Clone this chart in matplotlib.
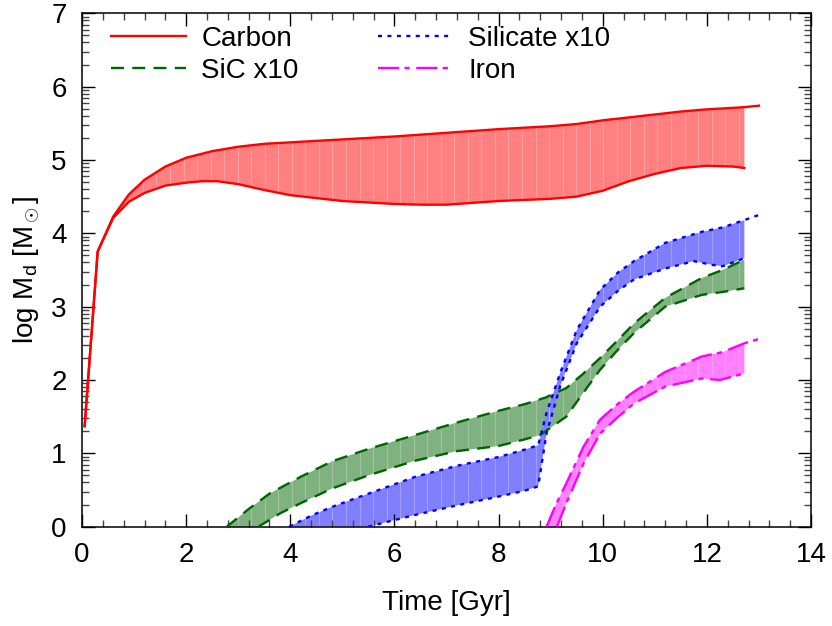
import numpy as np
import matplotlib
matplotlib.use("Agg")
import matplotlib.pyplot as plt

plt.rcParams['font.family'] = ['Liberation Sans', 'DejaVu Sans']
plt.rcParams['mathtext.fontset'] = 'custom'
plt.rcParams['mathtext.rm'] = 'Liberation Sans'
plt.rcParams['mathtext.it'] = 'Liberation Sans'

# Carbon (upper / lower edge of the band)
c_up_x = [0.05, 0.3, 0.6, 0.9, 1.2, 1.6, 2.0, 2.5, 3.0, 3.5, 4.0, 5.0, 6.0, 7.0, 8.0, 9.0, 9.5,
          10.0, 10.5, 11.0, 11.5, 12.0, 12.5, 12.72, 13.0]
c_up_y = [1.37, 3.75, 4.23, 4.53, 4.73, 4.91, 5.03, 5.12, 5.18, 5.22, 5.24, 5.28, 5.32, 5.37, 5.42,
          5.46, 5.49, 5.54, 5.58, 5.62, 5.66, 5.69, 5.71, 5.72, 5.74]
c_lo_x = [0.05, 0.3, 0.6, 0.9, 1.2, 1.6, 2.0, 2.3, 2.6, 3.0, 3.5, 4.0, 5.0, 6.0, 6.5, 7.0, 8.0, 9.0,
          9.5, 10.0, 10.5, 11.0, 11.5, 12.0, 12.5, 12.72]
c_lo_y = [1.37, 3.75, 4.21, 4.43, 4.55, 4.65, 4.69, 4.71, 4.71, 4.67, 4.59, 4.52, 4.44, 4.40, 4.39,
          4.39, 4.44, 4.47, 4.50, 4.58, 4.71, 4.81, 4.89, 4.92, 4.91, 4.89]

# SiC x10
s_up_x = [2.78, 3.2, 3.6, 4.2, 4.8, 5.5, 6.4, 7.2, 8.0, 8.5, 8.9, 9.3, 9.6, 9.95, 10.3, 10.6, 11.2,
          11.9, 12.3, 12.72]
s_up_y = [0.0, 0.24, 0.45, 0.68, 0.89, 1.06, 1.25, 1.42, 1.58, 1.67, 1.76, 1.89, 2.07, 2.30, 2.55,
          2.77, 3.12, 3.39, 3.50, 3.64]
s_lo_x = [3.39, 3.8, 4.2, 4.8, 5.5, 6.4, 7.2, 8.0, 8.5, 8.8, 9.3, 9.6, 9.95, 10.3, 10.6, 11.2,
          11.9, 12.3, 12.72]
s_lo_y = [0.0, 0.18, 0.32, 0.52, 0.70, 0.90, 1.03, 1.10, 1.19, 1.25, 1.50, 1.80, 2.14, 2.42, 2.64,
          3.00, 3.16, 3.20, 3.25]

# Silicate x10
si_up_x = [3.98, 4.4, 4.8, 5.5, 6.4, 7.2, 8.0, 8.5, 8.76, 8.92, 9.18, 9.5, 9.95, 10.3, 10.6, 11.2,
           11.9, 12.3, 12.72, 13.0]
si_up_y = [0.0, 0.15, 0.27, 0.45, 0.68, 0.83, 0.95, 1.05, 1.11, 1.55, 2.09, 2.68, 3.23, 3.47, 3.62,
           3.87, 4.02, 4.08, 4.18, 4.25]
si_lo_x = [5.5, 6.0, 6.4, 7.2, 8.0, 8.5, 8.76, 8.92, 9.18, 9.5, 9.95, 10.3, 10.6, 11.2, 11.75, 12.1,
           12.3, 12.72]
si_lo_y = [0.0, 0.09, 0.16, 0.29, 0.41, 0.49, 0.55, 1.27, 1.91, 2.50, 3.00, 3.22, 3.37, 3.52, 3.62,
           3.57, 3.55, 3.66]

# Iron
fe_up_x = [8.92, 9.1, 9.3, 9.63, 9.95, 10.3, 10.6, 11.2, 11.9, 12.3, 12.72, 13.0]
fe_up_y = [0.0, 0.30, 0.59, 1.09, 1.46, 1.68, 1.84, 2.11, 2.32, 2.38, 2.50, 2.56]
fe_lo_x = [9.12, 9.3, 9.63, 9.95, 10.3, 10.6, 11.2, 11.9, 12.25, 12.72]
fe_lo_y = [0.0, 0.32, 0.86, 1.27, 1.50, 1.68, 1.91, 2.02, 2.00, 2.09]

fig = plt.figure(figsize=(8.32, 6.26), dpi=100)
ax = fig.add_axes([0.0986, 0.1587, 0.8762, 0.8201])

series = [
    ("Carbon", c_up_x, c_up_y, c_lo_x, c_lo_y, "#ff0000", "#ff8080", "-"),
    ("SiC x10", s_up_x, s_up_y, s_lo_x, s_lo_y, "#006400", "#80b180", (0, (5.5, 3.5))),
    ("Silicate x10", si_up_x, si_up_y, si_lo_x, si_lo_y, "#0000ff", "#8080ff", (0, (1.7, 2.3))),
    ("Iron", fe_up_x, fe_up_y, fe_lo_x, fe_lo_y, "#ff00ff", "#ff80ff", (0, (9, 2.2, 2.2, 2.8))),
]

handles = []
for name, ux, uy, lx, ly, col, fcol, ls in series:
    ux, uy, lx, ly = map(np.asarray, (ux, uy, lx, ly))
    xend = lx[-1]
    keep = ux <= xend + 1e-9
    px = np.r_[ux[keep], lx[::-1]]
    py = np.r_[uy[keep], ly[::-1]]
    poly = ax.fill(px, py, color=fcol, lw=0, zorder=1)[0]
    # faint vertical stripes inside the band
    xs = np.arange(0.13, xend, 0.26)
    vl = ax.vlines(xs, 0, 7, colors="white", alpha=0.25, lw=0.8, zorder=1.5)
    vl.set_clip_path(poly)
    h, = ax.plot(ux, uy, color=col, lw=1.7, ls=ls, label=name, zorder=3)
    ax.plot(lx, ly, color=col, lw=1.7, ls=ls, zorder=3)
    handles.append(h)

ax.set_xlim(0, 14)
ax.set_ylim(0, 7)
ax.set_xticks(np.arange(0, 15, 2))
ax.set_xticks(np.arange(0, 14.01, 0.4), minor=True)
ax.set_yticks(np.arange(0, 8, 1))
yminor = [i + np.log10(k) for i in range(7) for k in range(2, 10)]
ax.set_yticks(yminor, minor=True)

ax.tick_params(which="both", direction="in", top=True, right=True, labelsize=20, width=1.0)
ax.tick_params(which="major", length=9.5)
ax.tick_params(which="minor", length=5, color="#444444")
ax.tick_params(axis="x", which="major", pad=11)
ax.tick_params(axis="y", which="major", pad=11)
for sp in ax.spines.values():
    sp.set_linewidth(1.1)

ax.set_xlabel("Time [Gyr]", fontsize=20, labelpad=16)
ax.set_ylabel(r"log M$_\mathrm{d}$ [M$_\odot$]", fontsize=20, labelpad=7)

ax.legend(handles=handles, ncol=2, loc="upper left", bbox_to_anchor=(0.04, 0.975),
          frameon=False, fontsize=20, handlelength=2.7, handletextpad=0.55,
          columnspacing=2.85, labelspacing=0.2, borderaxespad=0, borderpad=0)

fig.savefig("out.png", dpi=100)
